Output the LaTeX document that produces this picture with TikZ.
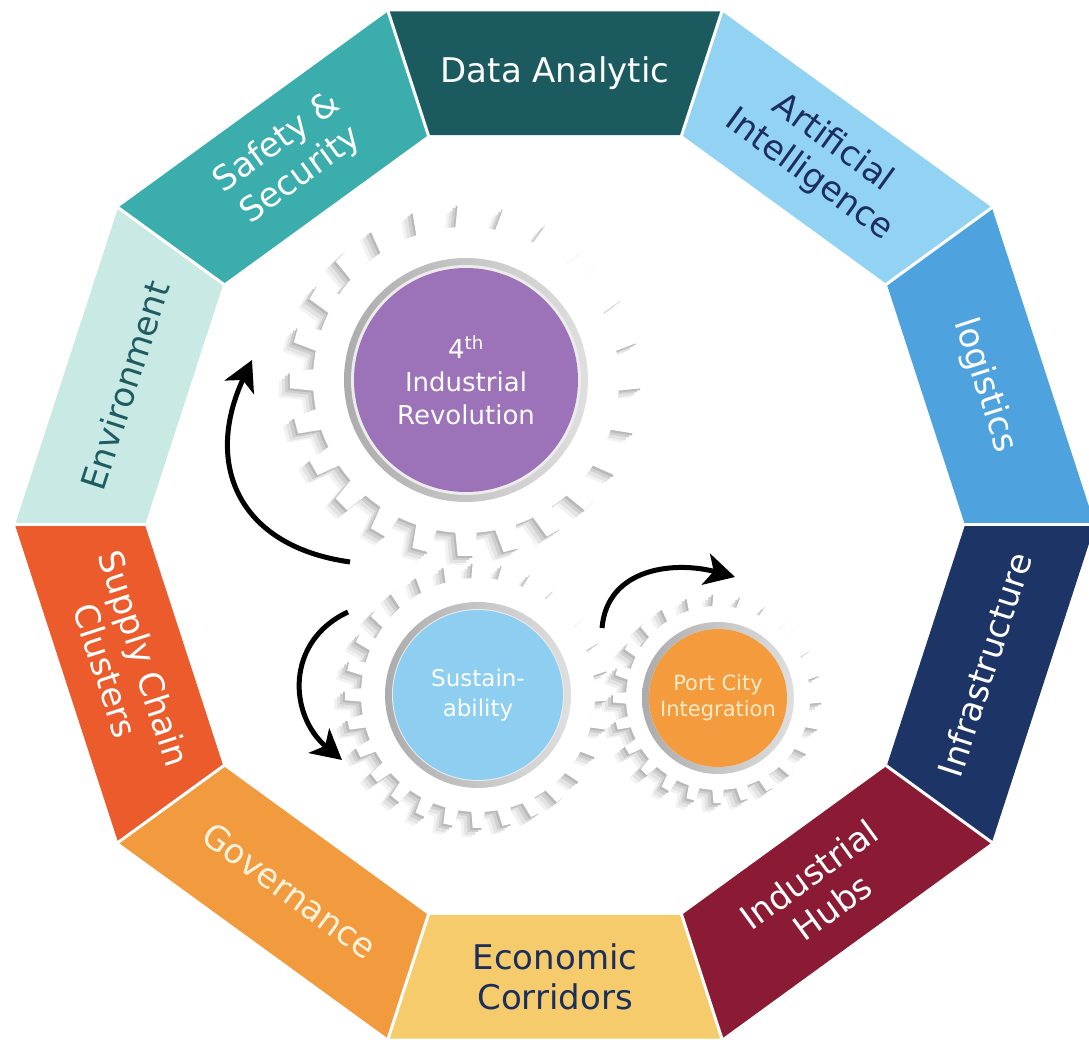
\documentclass[tikz,border=0pt]{standalone}
\usepackage{fontspec}
\setmainfont{DejaVu Sans}
\usetikzlibrary{arrows.meta,calc}
\definecolor{cData}{HTML}{1B5B60}
\definecolor{cAI}{HTML}{92D2F2}
\definecolor{cLog}{HTML}{4EA3DE}
\definecolor{cInf}{HTML}{1D3466}
\definecolor{cHub}{HTML}{8B1B35}
\definecolor{cEco}{HTML}{F6CB6C}
\definecolor{cGov}{HTML}{F29A3E}
\definecolor{cSup}{HTML}{EC5B2B}
\definecolor{cEnv}{HTML}{C9E9E5}
\definecolor{cSaf}{HTML}{3BADAD}
\definecolor{navy}{HTML}{1B2E5C}
\definecolor{tealtxt}{HTML}{1E5C62}
\definecolor{govtxt}{HTML}{FFF3DC}
\definecolor{cPur}{HTML}{9C72B9}
\definecolor{cSus}{HTML}{8DCEF1}
\definecolor{cPort}{HTML}{F39B3D}
\definecolor{porttxt}{HTML}{FDEBC8}
\newcommand\gearfill[6]{%
  \begin{scope}[shift={(#1)}]
    \fill[#6] (0,0) circle (#3);
    \foreach \k in {1,...,#2}{%
      \fill[#6, rotate={360/#2*\k}] (-#5,#3-4) -- (-0.75*#5,#4) -- (0.75*#5,#4) -- (#5,#3-4) -- cycle;}
  \end{scope}}
\newcommand\fullgear[5]{% center, teeth, root, outer, halfwidth
  \begin{scope}[shift={(-11,-9)}]\gearfill{#1}{#2}{#3}{#4}{#5}{gray!10}\end{scope}
  \begin{scope}[shift={(-8,-7)}]\gearfill{#1}{#2}{#3}{#4}{#5}{gray!22}\end{scope}
  \begin{scope}[shift={(-5,-4)}]\gearfill{#1}{#2}{#3}{#4}{#5}{gray!38}\end{scope}
  \begin{scope}[shift={(-2,-2)}]\gearfill{#1}{#2}{#3}{#4}{#5}{gray!55}\end{scope}
  \gearfill{#1}{#2}{#3}{#4}{#5}{white}}
\begin{document}
\begin{tikzpicture}[x=1pt,y=1pt,
  seglabel/.style={font=\fontsize{34}{40}\selectfont, align=center, inner sep=0pt},
  sepline/.style={white, line width=3pt},
  hubdisc/.style={circle, inner sep=0pt, align=center},
  rotarrow/.style={line width=5pt, black, -{Stealth[length=30pt,width=32pt,inset=8pt]}},
]
\useasboundingbox (-555,-515) rectangle (534,525);
% ring segments
\foreach \m/\fc/\tc/\r/\n/\t in {
  90/cData/white/0/data/{Data Analytic},
  54/cAI/navy/-36/ai/{Artificial\\Intelligence},
  18/cLog/white/-72/logi/{logistics},
  -18/cInf/white/72/infra/{Infrastructure},
  -54/cHub/white/36/hubs/{Industrial\\Hubs},
  -90/cEco/navy/0/eco/{Economic\\Corridors},
  -126/cGov/govtxt/-36/gov/{Governance},
  -162/cSup/white/-72/supply/{Supply Chain\\Clusters},
  162/cEnv/tealtxt/72/env/{Environment},
  126/cSaf/white/36/safety/{Safety \&\\Security}}{
  \fill[\fc] ({\m-18}:540) -- ({\m+18}:540) -- ({\m+18}:410) -- ({\m-18}:410) -- cycle;
  \node[seglabel, text=\tc, rotate=\r] (\n) at (\m:452) {\t};
}
\foreach \a in {0,36,...,324}{\draw[sepline] (\a:408) -- (\a:542);}
% gears
\fullgear{-89,145}{24}{153}{176}{11}
\fullgear{-77,-170}{28}{117}{133}{7}
\fullgear{163,-173}{24}{92}{105}{6}
% discs
\foreach \c/\r in {{-89,145}/122,{-77,-170}/93,{163,-173}/76}{
  \shade[left color=gray!65, right color=gray!25] (\c) circle (\r);
  \fill[white!85!gray] (\c) circle ({\r-7});
}
\node[hubdisc, fill=cPur, minimum size=224pt, text=white,
  font=\fontsize{26}{33}\selectfont] (ir) at (-89,145) {4\textsuperscript{th}\\Industrial\\Revolution};
\node[hubdisc, fill=cSus, minimum size=170pt, text=white,
  font=\fontsize{23}{30}\selectfont] (sus) at (-77,-170) {Sustain-\\ability};
\node[hubdisc, fill=cPort, minimum size=138pt, text=porttxt,
  font=\fontsize{21}{26}\selectfont] (port) at (163,-173) {Port City\\Integration};
% arrows
\coordinate (a1s) at (-205,-37);
\coordinate (a1e) at (-303,165);
\coordinate (a2s) at (-207,-87);
\coordinate (a2e) at (-213,-235);
\coordinate (a3s) at (47,-103);
\coordinate (a3e) at (180,-52);
\draw[rotarrow] (a1s) to[out=172, in=245, looseness=1.3] (a1e);
\draw[rotarrow] (a2s) to[out=205, in=140, looseness=1.2] (a2e);
\draw[rotarrow] (a3s) to[out=85, in=165, looseness=1.1] (a3e);
\end{tikzpicture}
\end{document}
